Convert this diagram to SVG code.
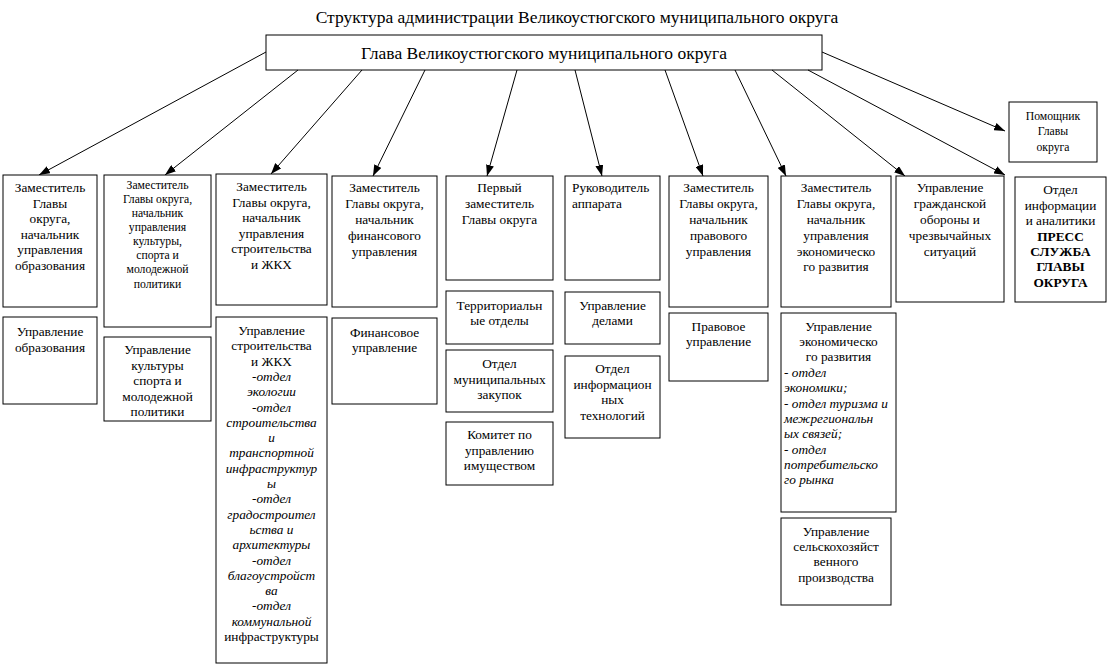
<svg xmlns="http://www.w3.org/2000/svg" width="1108" height="671" viewBox="0 0 1108 671">
<defs>
<marker id="ah" markerWidth="11" markerHeight="8" refX="11" refY="4" orient="auto" markerUnits="userSpaceOnUse"><path d="M0,0 L11,4 L0,8 z" fill="#000"/></marker>
<style>
rect{fill:#fff;stroke:#000;stroke-width:1}
text{font-family:"Times New Roman","Liberation Serif",Times,Tinos,"Noto Serif","DejaVu Serif",FreeSerif,serif;fill:#000}
.t{font-size:13.3px;text-anchor:middle}
.s{font-size:11.7px;text-anchor:middle}
.l{font-size:13.3px;text-anchor:start}
.i{font-style:italic}
.b{font-weight:bold}
.h{font-size:17.5px;text-anchor:middle}
.c line{stroke:#000;stroke-width:1;marker-end:url(#ah)}
</style>
</defs>
<rect x="0" y="0" width="1108" height="671" style="fill:#fff;stroke:none"/>
<text class="h" x="577" y="23">Структура администрации Великоустюгского муниципального округа</text>

<g id="head"><rect x="266" y="35" width="556" height="35"/><text class="h" x="544" y="59">Глава Великоустюгского муниципального округа</text></g>

<g class="c" id="connectors">
<line x1="266" y1="52" x2="39" y2="175"/>
<line x1="298" y1="70" x2="165" y2="175"/>
<line x1="362" y1="70" x2="271" y2="174"/>
<line x1="425" y1="70" x2="373" y2="176"/>
<line x1="517" y1="70" x2="487" y2="176"/>
<line x1="575" y1="70" x2="602" y2="176"/>
<line x1="665" y1="70" x2="703" y2="176"/>
<line x1="735" y1="70" x2="786" y2="176"/>
<line x1="772" y1="70" x2="905" y2="176"/>
<line x1="808" y1="70" x2="1005" y2="175"/>
<line x1="822" y1="52" x2="1005" y2="131"/>
</g>

<g id="n1"><rect x="3" y="175" width="94" height="132"/>
<text class="t"><tspan x="50" y="192">Заместитель</tspan><tspan x="50" y="208">Главы</tspan><tspan x="50" y="223">округа,</tspan><tspan x="50" y="239">начальник</tspan><tspan x="50" y="254">управления</tspan><tspan x="50" y="270">образования</tspan></text></g>

<g id="n2"><rect x="104" y="175" width="107" height="152"/>
<text class="s"><tspan x="157.5" y="189">Заместитель</tspan><tspan x="157.5" y="203">Главы округа,</tspan><tspan x="157.5" y="217">начальник</tspan><tspan x="157.5" y="231">управления</tspan><tspan x="157.5" y="245">культуры,</tspan><tspan x="157.5" y="259">спорта и</tspan><tspan x="157.5" y="273">молодежной</tspan><tspan x="157.5" y="288">политики</tspan></text></g>

<g id="n3"><rect x="216" y="174" width="111" height="131"/>
<text class="t"><tspan x="271.5" y="191">Заместитель</tspan><tspan x="271.5" y="207">Главы округа,</tspan><tspan x="271.5" y="222">начальник</tspan><tspan x="271.5" y="238">управления</tspan><tspan x="271.5" y="253">строительства</tspan><tspan x="271.5" y="269">и ЖКХ</tspan></text></g>

<g id="n4"><rect x="332" y="176" width="105" height="131"/>
<text class="t"><tspan x="384.5" y="192">Заместитель</tspan><tspan x="384.5" y="208">Главы округа,</tspan><tspan x="384.5" y="224">начальник</tspan><tspan x="384.5" y="240">финансового</tspan><tspan x="384.5" y="256">управления</tspan></text></g>

<g id="n5"><rect x="446" y="176" width="107" height="104"/>
<text class="t"><tspan x="499.5" y="192">Первый</tspan><tspan x="499.5" y="208">заместитель</tspan><tspan x="499.5" y="224">Главы округа</tspan></text></g>

<g id="n6"><rect x="565" y="176" width="95" height="104"/>
<text class="l"><tspan x="572" y="192">Руководитель</tspan><tspan x="572" y="208">аппарата</tspan></text></g>

<g id="n7"><rect x="669" y="176" width="99" height="131"/>
<text class="t"><tspan x="718.5" y="192">Заместитель</tspan><tspan x="718.5" y="208">Главы округа,</tspan><tspan x="718.5" y="224">начальник</tspan><tspan x="718.5" y="240">правового</tspan><tspan x="718.5" y="256">управления</tspan></text></g>

<g id="n8"><rect x="781" y="176" width="110" height="131"/>
<text class="t"><tspan x="836" y="192">Заместитель</tspan><tspan x="836" y="208">Главы округа,</tspan><tspan x="836" y="224">начальник</tspan><tspan x="836" y="240">управления</tspan><tspan x="836" y="256">экономическо</tspan><tspan x="836" y="271">го развития</tspan></text></g>

<g id="n9"><rect x="896" y="176" width="108" height="126"/>
<text class="t"><tspan x="950" y="192">Управление</tspan><tspan x="950" y="208">гражданской</tspan><tspan x="950" y="224">обороны и</tspan><tspan x="950" y="240">чрезвычайных</tspan><tspan x="950" y="256">ситуаций</tspan></text></g>

<g id="n10"><rect x="1015" y="177" width="91" height="125"/>
<text class="t"><tspan x="1060.5" y="194">Отдел</tspan><tspan x="1060.5" y="210">информации</tspan><tspan x="1060.5" y="225">и аналитики</tspan><tspan x="1060.5" y="241" class="b">ПРЕСС</tspan><tspan x="1060.5" y="256" class="b">СЛУЖБА</tspan><tspan x="1060.5" y="271" class="b">ГЛАВЫ</tspan><tspan x="1060.5" y="287" class="b">ОКРУГА</tspan></text></g>

<g id="n11"><rect x="1009" y="102" width="88" height="60"/>
<text class="s"><tspan x="1053" y="120">Помощник</tspan><tspan x="1053" y="135">Главы</tspan><tspan x="1053" y="151">округа</tspan></text></g>

<g id="n12"><rect x="3" y="317" width="94" height="87"/>
<text class="t"><tspan x="50" y="336">Управление</tspan><tspan x="50" y="352">образования</tspan></text></g>

<g id="n13"><rect x="104" y="337" width="107" height="84"/>
<text class="t"><tspan x="157.5" y="354">Управление</tspan><tspan x="157.5" y="370">культуры</tspan><tspan x="157.5" y="385">спорта и</tspan><tspan x="157.5" y="401">молодежной</tspan><tspan x="157.5" y="416">политики</tspan></text></g>

<g id="n14"><rect x="216" y="317" width="111" height="346"/>
<text class="t"><tspan x="271.5" y="335">Управление</tspan><tspan x="271.5" y="350.3">строительства</tspan><tspan x="271.5" y="365.6">и ЖКХ</tspan><tspan x="271.5" y="380.9" class="i">-отдел</tspan><tspan x="271.5" y="396.2" class="i">экологии</tspan><tspan x="271.5" y="411.5" class="i">-отдел</tspan><tspan x="271.5" y="426.8" class="i">строительства</tspan><tspan x="271.5" y="442.1" class="i">и</tspan><tspan x="271.5" y="457.4" class="i">транспортной</tspan><tspan x="271.5" y="472.7" class="i">инфраструктур</tspan><tspan x="271.5" y="488" class="i">ы</tspan><tspan x="271.5" y="503.3" class="i">-отдел</tspan><tspan x="271.5" y="518.6" class="i">градостроител</tspan><tspan x="271.5" y="533.9" class="i">ьства и</tspan><tspan x="271.5" y="549.2" class="i">архитектуры</tspan><tspan x="271.5" y="564.5" class="i">-отдел</tspan><tspan x="271.5" y="579.8" class="i">благоустройст</tspan><tspan x="271.5" y="595.1" class="i">ва</tspan><tspan x="271.5" y="610.4" class="i">-отдел</tspan><tspan x="271.5" y="625.7" class="i">коммунальной</tspan><tspan x="271.5" y="641">инфраструктуры</tspan></text></g>

<g id="n15"><rect x="332" y="318" width="105" height="86"/>
<text class="t"><tspan x="384.5" y="337">Финансовое</tspan><tspan x="384.5" y="352">управление</tspan></text></g>

<g id="n16"><rect x="446" y="291" width="107" height="53"/>
<text class="t"><tspan x="499.5" y="310">Территориальн</tspan><tspan x="499.5" y="325">ые отделы</tspan></text></g>

<g id="n17"><rect x="446" y="350" width="107" height="62"/>
<text class="t"><tspan x="499.5" y="368">Отдел</tspan><tspan x="499.5" y="384">муниципальных</tspan><tspan x="499.5" y="399">закупок</tspan></text></g>

<g id="n18"><rect x="446" y="422" width="107" height="63"/>
<text class="t"><tspan x="499.5" y="439">Комитет по</tspan><tspan x="499.5" y="455">управлению</tspan><tspan x="499.5" y="470">имуществом</tspan></text></g>

<g id="n19"><rect x="565" y="292" width="95" height="52"/>
<text class="t"><tspan x="612.5" y="310">Управление</tspan><tspan x="612.5" y="325">делами</tspan></text></g>

<g id="n20"><rect x="565" y="356" width="95" height="82"/>
<text class="t"><tspan x="612.5" y="373">Отдел</tspan><tspan x="612.5" y="389">информацион</tspan><tspan x="612.5" y="404">ных</tspan><tspan x="612.5" y="420">технологий</tspan></text></g>

<g id="n21"><rect x="669" y="313" width="99" height="68"/>
<text class="t"><tspan x="718.5" y="331">Правовое</tspan><tspan x="718.5" y="346">управление</tspan></text></g>

<g id="n22"><rect x="781" y="313" width="115" height="199"/>
<text class="t"><tspan x="838.5" y="331">Управление</tspan><tspan x="838.5" y="346">экономическо</tspan><tspan x="838.5" y="361">го развития</tspan></text>
<text class="l i"><tspan x="784" y="377">- отдел</tspan><tspan x="784" y="392">экономики;</tspan><tspan x="784" y="408">- отдел туризма и</tspan><tspan x="784" y="423">межрегиональн</tspan><tspan x="784" y="438">ых связей;</tspan><tspan x="784" y="454">- отдел</tspan><tspan x="784" y="469">потребительско</tspan><tspan x="784" y="484">го рынка</tspan></text></g>

<g id="n23"><rect x="781" y="518" width="110" height="87"/>
<text class="t"><tspan x="836" y="536">Управление</tspan><tspan x="836" y="551">сельскохозяйст</tspan><tspan x="836" y="566">венного</tspan><tspan x="836" y="582">производства</tspan></text></g>
</svg>
